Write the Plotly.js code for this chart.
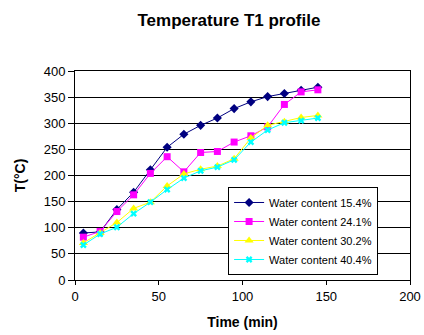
<!DOCTYPE html>
<html>
<head>
<meta charset="utf-8">
<script src="https://cdn.plot.ly/plotly-3.0.1.min.js"></script>
<style>html,body{margin:0;padding:0;background:#fff;}#chart{width:424px;height:335px;}</style>
</head>
<body>
<div id="chart"></div>
<script>
const time = [5,15,25,35,45,55,65,75,85,95,105,115,125,135,145];
const wc154 = [90,92,135,168,211,254,279,296,310,328,341,351,357,363,369];
const wc241 = [82,93,131,163,204,236,207,244,246,264,276,293,336,360,364];
const wc302 = [71,90,110,137,149,180,203,212,218,232,272,296,303,311,315];
const wc404 = [67,88,101,127,149,173,195,209,216,230,264,287,301,305,310];
const seriesNames = ['Water content 15.4%','Water content 24.1%','Water content 30.2%','Water content 40.4%'];

const styles = [
  {color:'#000080', symbol:'diamond', size:7},
  {color:'#FF00FF', symbol:'square', size:7},
  {color:'#FFFF00', symbol:'triangle-up', size:8},
  {color:'#00FFFF', symbol:'x', size:6}
];
const ys = [wc154, wc241, wc302, wc404];
const traces = ys.map((y,i)=>({
  x: time, y: y, name: seriesNames[i], type:'scatter', mode:'lines+markers',
  line:{color:styles[i].color, width:1},
  marker:{color:styles[i].color, symbol:styles[i].symbol, size:styles[i].size}
}));

const layout = {
  width:424, height:335,
  margin:{l:75, r:14, t:71, b:55},
  paper_bgcolor:'#fff', plot_bgcolor:'#fff',
  font:{family:'Liberation Sans, Arial, sans-serif', color:'#000', size:12},
  title:{text:'<b>Temperature T1 profile</b>', x:0.54, xref:'container', xanchor:'center', y:0.94, yanchor:'middle', font:{size:17, color:'#000'}},
  xaxis:{range:[0,200], tickvals:[0,50,100,150,200], showgrid:false, zeroline:false,
    showline:true, linecolor:'#000', linewidth:1, mirror:true,
    ticks:'outside', ticklen:4, tickcolor:'#000', tickfont:{size:13},
    title:{text:'<b>Time (min)</b>', font:{size:14}, standoff:14}},
  yaxis:{range:[0,400], tickvals:[0,50,100,150,200,250,300,350,400], showgrid:true, gridcolor:'#000', gridwidth:1,
    zeroline:false, showline:true, linecolor:'#000', linewidth:1, mirror:true,
    ticks:'outside', ticklen:6, tickcolor:'#000', tickfont:{size:13},
    title:{text:'<b>T(°C)</b>', font:{size:14}, standoff:14}},
  legend:{x:0.457, y:0.445, xanchor:'left', yanchor:'top', bgcolor:'#fff', bordercolor:'#000', borderwidth:1,
    font:{size:11}, tracegroupgap:0, itemwidth:30},
  showlegend:true
};
Plotly.newPlot('chart', traces, layout, {displayModeBar:false, staticPlot:true});
</script>
</body>
</html>
